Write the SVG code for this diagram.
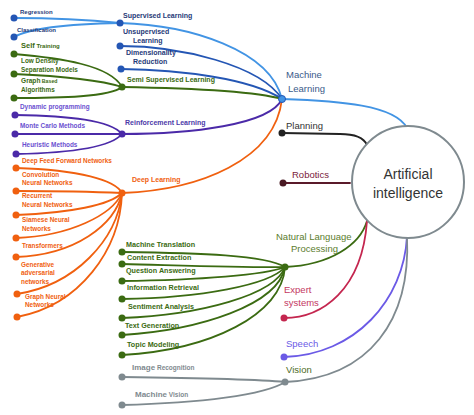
<svg xmlns="http://www.w3.org/2000/svg" width="474" height="415" viewBox="0 0 474 415">
<style>
text{font-family:"Liberation Sans",Arial,sans-serif}
.b{font-weight:bold}
.s{font-size:6.4px}
.m{font-size:7px}
.n{font-size:7.2px}
.L{font-size:9.5px}
.c{fill:none;stroke-width:1.8;stroke-linecap:round}
.lb{stroke:#4294e4}
.db{stroke:#2456b4}
.gr{stroke:#3b6b12}
.pu{stroke:#4b2aa8}
.or{stroke:#f0600f}
.gy{stroke:#7f8a8f}
.navy{fill:#1f3a78}
.green{fill:#3b6b12}
.purp{fill:#6a4fd0}
.orange{fill:#f0600f}
.gray{fill:#7f8a8f}
</style>
<rect width="474" height="415" fill="#ffffff"/>
<g id="connectors">
<path class="c lb" d="M282,99 C340,101 395,105 407,128"/>
<path class="c" stroke="#222222" d="M282,133 L340,134 C355,134 364,138 367,145"/>
<path class="c" stroke="#5a1a2a" d="M283,183 L350,183"/>
<path class="c gr" d="M285,267 C330,265 360,245 367,221"/>
<path class="c" stroke="#c4264f" d="M284,318 C322,318 362,290 367,221"/>
<path class="c" stroke="#6b5ae6" d="M284,357 C355,355 404,300 407,236"/>
<path class="c gy" d="M285,382 C370,378 411,320 407,236"/>
<path class="c lb" d="M120,23 C190,25 270,50 282,99"/>
<path class="c db" d="M120,46 C180,46 260,65 282,99"/>
<path class="c db" d="M121,69 C180,70 250,78 282,99"/>
<path class="c gr" d="M122,87 C180,88 250,90 282,99"/>
<path class="c pu" d="M122,134 C190,134 270,125 282,99"/>
<path class="c or" d="M122,193 C200,190 275,160 282,99"/>
<path class="c lb" d="M14,18 C60,18 90,20 120,23"/>
<path class="c lb" d="M14,37 C30,28 70,24 120,23"/>
<path class="c gr" d="M14,54 C60,58 110,65 122,87"/>
<path class="c gr" d="M14,74 C60,76 100,80 122,87"/>
<path class="c gr" d="M14,98 C60,98 110,97 122,87"/>
<path class="c pu" d="M15,115 C70,116 110,120 122,134"/>
<path class="c pu" d="M15,134 L122,134"/>
<path class="c pu" d="M16,154 C70,153 110,148 122,134"/>
<path class="c or" d="M16,168 C80,170 115,180 122,193"/>
<path class="c or" d="M16,191 C60,191 100,192 122,193"/>
<path class="c or" d="M16,215 C70,213 110,205 122,193"/>
<path class="c or" d="M16,238 C70,236 112,215 122,193"/>
<path class="c or" d="M16,257 C75,255 115,225 122,193"/>
<path class="c or" d="M17,294 C75,285 117,240 122,193"/>
<path class="c or" d="M17,317 C80,305 120,250 122,193"/>
<path class="c gr" d="M122,252 C200,253 265,255 285,267"/>
<path class="c gr" d="M122,264 C200,266 260,268 285,267"/>
<path class="c gr" d="M122,281 C200,280 265,275 285,267"/>
<path class="c gr" d="M122,299 C200,298 270,285 285,267"/>
<path class="c gr" d="M122,318 C200,315 275,295 285,267"/>
<path class="c gr" d="M122,335 C200,330 278,305 285,267"/>
<path class="c gr" d="M122,355 C210,350 282,315 285,267"/>
<path class="c gy" d="M122,377 C200,378 265,380 285,382"/>
<path class="c gy" d="M122,405 C200,403 265,395 285,382"/>
</g>
<g id="ai">
<circle cx="408" cy="182" r="56" fill="#ffffff" stroke="#7f8a8f" stroke-width="2"/>
<text x="408" y="179" font-size="14" fill="#333333" text-anchor="middle">Artificial</text>
<text x="408" y="198" font-size="14" fill="#333333" text-anchor="middle">intelligence</text>
</g>
<g id="machine-learning">
<circle cx="282" cy="99" r="3.5" fill="#4294e4" stroke="#2456b4" stroke-width="1"/>
<text class="L" x="286" y="78" fill="#3a5a8a">Machine</text>
<text class="L" x="288" y="92" fill="#3a5a8a">Learning</text>
</g>
<g id="planning">
<circle cx="282" cy="133" r="3.5" fill="#222222"/>
<text class="L" x="286" y="129" fill="#333333">Planning</text>
</g>
<g id="robotics">
<circle cx="283" cy="183" r="3.5" fill="#4a1a24"/>
<text class="L" x="292" y="178" fill="#7a1a3a">Robotics</text>
</g>
<g id="nlp">
<circle cx="285" cy="267" r="3.5" fill="#3b6b12"/>
<text class="L" x="276" y="240" fill="#5b7d2e" font-size="9">Natural Language</text>
<text class="L" x="291" y="252" fill="#5b7d2e" font-size="9">Processing</text>
</g>
<g id="expert-systems">
<circle cx="284" cy="318" r="3.5" fill="#c4264f"/>
<text class="L" x="284" y="293" fill="#c4385f">Expert</text>
<text class="L" x="284" y="306" fill="#c4385f">systems</text>
</g>
<g id="speech">
<circle cx="284" cy="357" r="3.5" fill="#6b5ae6"/>
<text class="L" x="286" y="347" fill="#6b5ae6">Speech</text>
</g>
<g id="vision">
<circle cx="285" cy="382" r="3.5" fill="#7f8a8f"/>
<text class="L" x="286" y="373" fill="#4d6b1e">Vision</text>
</g>
<g id="supervised">
<circle cx="120" cy="23" r="3.5" fill="#2456b4"/>
<text class="b m navy" x="123" y="18">Supervised Learning</text>
</g>
<g id="regression">
<circle cx="14" cy="18" r="3.5" fill="#2456b4"/>
<text class="b navy" font-size="6" x="20" y="14">Regression</text>
</g>
<g id="classification">
<circle cx="14" cy="37" r="3.5" fill="#2456b4"/>
<text class="b navy" font-size="6" x="17" y="32">Classification</text>
</g>
<g id="unsupervised">
<circle cx="120" cy="46" r="3.5" fill="#2456b4"/>
<text class="b m navy" x="123" y="34">Unsupervised</text>
<text class="b m navy" x="133" y="43">Learning</text>
</g>
<g id="dimensionality">
<circle cx="121" cy="69" r="3.5" fill="#2456b4"/>
<text class="b m navy" x="126" y="55">Dimensionality</text>
<text class="b m navy" x="133" y="64">Reduction</text>
</g>
<g id="semi-supervised">
<circle cx="122" cy="87" r="3.5" fill="#3b6b12"/>
<text class="b m green" x="127" y="82">Semi Supervised Learning</text>
</g>
<g id="self-training">
<circle cx="14" cy="54" r="3.5" fill="#3b6b12"/>
<text class="b green" x="21" y="48"><tspan font-size="7.5">Self</tspan><tspan font-size="6"> Training</tspan></text>
</g>
<g id="low-density">
<circle cx="14" cy="74" r="3.5" fill="#3b6b12"/>
<text class="b s green" x="21" y="63">Low Density</text>
<text class="b s green" x="21" y="72">Separation Models</text>
</g>
<g id="graph-based">
<circle cx="14" cy="98" r="3.5" fill="#3b6b12"/>
<text class="b green" x="21" y="83"><tspan font-size="6.6">Graph</tspan><tspan font-size="5.2"> Based</tspan></text>
<text class="b s green" x="21" y="92">Algorithms</text>
</g>
<g id="reinforcement">
<circle cx="122" cy="134" r="3.5" fill="#4b2aa8"/>
<text class="b m" fill="#4b3aa8" x="125" y="125">Reinforcement Learning</text>
</g>
<g id="dynamic-programming">
<circle cx="15" cy="115" r="3.5" fill="#4b2aa8"/>
<text class="b s purp" x="20" y="109">Dynamic programming</text>
</g>
<g id="monte-carlo">
<circle cx="15" cy="134" r="3.5" fill="#4b2aa8"/>
<text class="b s purp" x="20" y="128">Monte Carlo Methods</text>
</g>
<g id="heuristic">
<circle cx="16" cy="154" r="3.5" fill="#4b2aa8"/>
<text class="b s purp" x="22" y="147">Heuristic Methods</text>
</g>
<g id="deep-learning">
<circle cx="122" cy="193" r="3.5" fill="#f0600f"/>
<text class="b m orange" x="132" y="182">Deep Learning</text>
</g>
<g id="dff">
<circle cx="16" cy="168" r="3.5" fill="#f0600f"/>
<text class="b s orange" x="22" y="163">Deep Feed Forward Networks</text>
</g>
<g id="cnn">
<circle cx="16" cy="191" r="3.5" fill="#f0600f"/>
<text class="b s orange" x="22" y="177">Convolution</text>
<text class="b s orange" x="22" y="185">Neural Networks</text>
</g>
<g id="rnn">
<circle cx="16" cy="215" r="3.5" fill="#f0600f"/>
<text class="b s orange" x="22" y="198">Recurrent</text>
<text class="b s orange" x="22" y="207">Neural Networks</text>
</g>
<g id="siamese">
<circle cx="16" cy="238" r="3.5" fill="#f0600f"/>
<text class="b s orange" x="22" y="222">Siamese Neural</text>
<text class="b s orange" x="22" y="231">Networks</text>
</g>
<g id="transformers">
<circle cx="16" cy="257" r="3.5" fill="#f0600f"/>
<text class="b s orange" x="22" y="248">Transformers</text>
</g>
<g id="gan">
<circle cx="17" cy="294" r="3.5" fill="#f0600f"/>
<text class="b s orange" x="21" y="267">Generative</text>
<text class="b s orange" x="21" y="275">adversarial</text>
<text class="b s orange" x="21" y="284">networks</text>
</g>
<g id="gnn">
<circle cx="17" cy="317" r="3.5" fill="#f0600f"/>
<text class="b s orange" x="25" y="299">Graph Neural</text>
<text class="b s orange" x="25" y="307">Networks</text>
</g>
<g id="machine-translation">
<circle cx="122" cy="252" r="3.5" fill="#3b6b12"/>
<text class="b n green" x="126" y="247">Machine Translation</text>
</g>
<g id="content-extraction">
<circle cx="122" cy="264" r="3.5" fill="#3b6b12"/>
<text class="b n green" x="127" y="260">Content Extraction</text>
</g>
<g id="question-answering">
<circle cx="122" cy="281" r="3.5" fill="#3b6b12"/>
<text class="b n green" x="126" y="273">Question Answering</text>
</g>
<g id="information-retrieval">
<circle cx="122" cy="299" r="3.5" fill="#3b6b12"/>
<text class="b n green" x="127" y="290">Information Retrieval</text>
</g>
<g id="sentiment-analysis">
<circle cx="122" cy="318" r="3.5" fill="#3b6b12"/>
<text class="b n green" x="128" y="309">Sentiment Analysis</text>
</g>
<g id="text-generation">
<circle cx="122" cy="335" r="3.5" fill="#3b6b12"/>
<text class="b n green" x="125" y="328">Text Generation</text>
</g>
<g id="topic-modeling">
<circle cx="122" cy="355" r="3.5" fill="#3b6b12"/>
<text class="b n green" x="127" y="347">Topic Modeling</text>
</g>
<g id="image-recognition">
<circle cx="122" cy="377" r="3.5" fill="#7f8a8f"/>
<text class="b gray" x="132" y="370"><tspan font-size="8">Image</tspan><tspan font-size="6.5"> Recognition</tspan></text>
</g>
<g id="machine-vision">
<circle cx="122" cy="405" r="3.5" fill="#7f8a8f"/>
<text class="b gray" x="135" y="397"><tspan font-size="8">Machine</tspan><tspan font-size="6.5"> Vision</tspan></text>
</g>
</svg>
